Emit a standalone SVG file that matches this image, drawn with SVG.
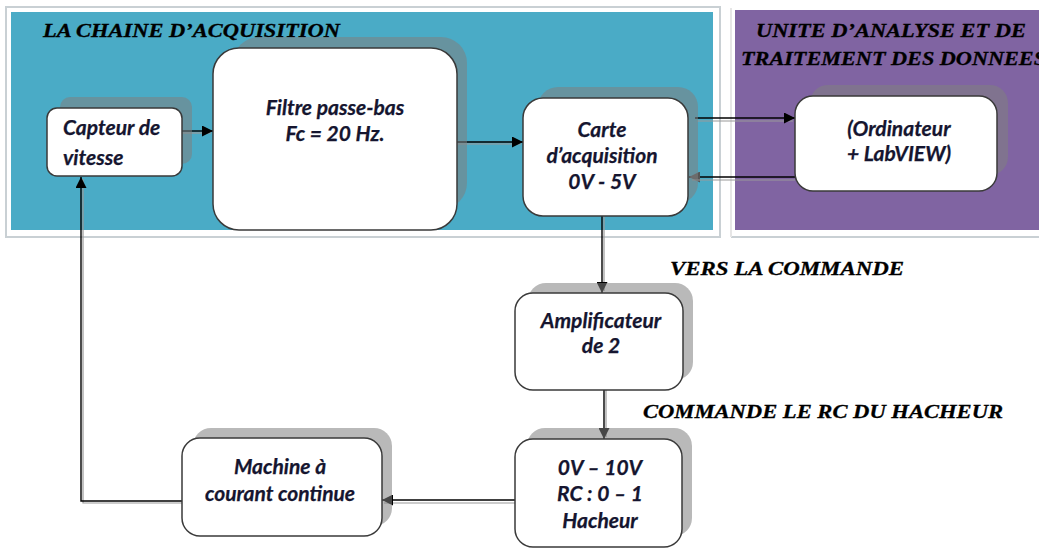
<svg xmlns="http://www.w3.org/2000/svg" width="1039" height="550" viewBox="0 0 1039 550">
<defs>
<style>
.node{fill:#ffffff;stroke:#3a3a3a;stroke-width:1.5}
.shadow{fill:#7f7f7f;opacity:0.55}
.lbl{font-family:Lato,"Liberation Sans",sans-serif;font-weight:bold;font-style:italic;font-size:21px;fill:#15152f;stroke:#15152f;stroke-width:0.25;text-anchor:middle}
.title{font-family:"Liberation Serif",serif;font-weight:bold;font-style:italic;font-size:19px;fill:#000000;stroke:#000;stroke-width:0.3}
.ln{fill:none;stroke:#000;stroke-width:1.4}
.ln2{fill:none;stroke:#9a9a9a;stroke-width:1.2}
</style>
<marker id="ah" viewBox="0 0 10 10" refX="10" refY="5" markerWidth="11" markerHeight="11" markerUnits="userSpaceOnUse" orient="auto">
<path d="M0,0 L10,5 L0,10 z" fill="#000"/>
</marker>
<marker id="ahg" viewBox="0 0 10 10" refX="10" refY="5" markerWidth="11" markerHeight="11" markerUnits="userSpaceOnUse" orient="auto">
<path d="M0,0 L10,5 L0,10 z" fill="#555"/>
</marker>
</defs>
<rect x="0" y="0" width="1039" height="550" fill="#ffffff"/>
<g id="panels">
<rect x="6" y="7" width="714" height="230" fill="none" stroke="#c9d0d4" stroke-width="2"/>
<rect x="11" y="12" width="702" height="218" fill="#4aabc6"/>
<rect x="735" y="10" width="304" height="220" fill="#8064a2"/>
<line x1="731" y1="237" x2="1039" y2="237" stroke="#c9d0d4" stroke-width="2"/>
<line x1="731" y1="8" x2="731" y2="237" stroke="#e6e6e6" stroke-width="2"/>
<text class="title" x="43" y="37" textLength="297" lengthAdjust="spacingAndGlyphs">LA CHAINE D’ACQUISITION</text>
<text class="title" x="756" y="37" textLength="270" lengthAdjust="spacingAndGlyphs">UNITE D’ANALYSE ET DE</text>
<text class="title" x="741" y="65" textLength="305" lengthAdjust="spacingAndGlyphs">TRAITEMENT DES DONNEES</text>
<text class="title" x="670" y="275" textLength="234" lengthAdjust="spacingAndGlyphs">VERS  LA COMMANDE</text>
<text class="title" x="643" y="418" textLength="360" lengthAdjust="spacingAndGlyphs">COMMANDE LE RC DU HACHEUR</text>
</g>
<g id="connectors">
<path class="ln2" d="M182,133 L211,133"/>
<path class="ln" d="M182,131 L213,131" marker-end="url(#ah)"/>
<path class="ln2" d="M457,144 L521,144"/>
<path class="ln" d="M457,142 L523,142" marker-end="url(#ah)"/>
<path class="ln2" d="M697,121 L793,121"/>
<path class="ln" d="M695,118 L795,118" marker-end="url(#ah)"/>
<path class="ln" d="M795,177 L689,177" marker-end="url(#ahg)"/>
<path class="ln2" d="M795,180 L692,180"/>
<path class="ln2" d="M604,194 L604,291"/>
<path class="ln" d="M602,193 L602,293" marker-end="url(#ah)"/>
<path class="ln2" d="M606,390 L606,437"/>
<path class="ln" d="M604,390 L604,439" marker-end="url(#ah)"/>
<path class="ln2" d="M515,503 L384,503"/>
<path class="ln" d="M515,500 L382,500" marker-end="url(#ah)"/>
<path class="ln2" d="M182,503 L83,503 L83,179"/>
<path class="ln" d="M182,501 L81,501 L81,177" marker-end="url(#ah)"/>
</g>
<g id="capteur">
<rect class="shadow" x="60" y="97" width="132" height="67" rx="10"/>
<rect class="node" x="47" y="108" width="135" height="68" rx="10"/>
<text class="lbl" x="63" y="135" style="text-anchor:start">Capteur de</text>
<text class="lbl" x="63" y="165" style="text-anchor:start">vitesse</text>
</g>
<g id="filtre">
<rect class="shadow" x="233" y="37" width="234" height="172" rx="26"/>
<rect class="node" x="213" y="48" width="244" height="182" rx="26"/>
<text class="lbl" x="335" y="115">Filtre passe-bas</text>
<text class="lbl" x="335" y="141">Fc = 20 Hz.</text>
</g>
<g id="carte">
<rect class="shadow" x="538" y="87" width="160" height="116" rx="20"/>
<rect class="node" x="523" y="98" width="165" height="118" rx="20"/>
<text class="lbl" x="602" y="137">Carte</text>
<text class="lbl" x="602" y="163">d’acquisition</text>
<text class="lbl" x="602" y="189">0V - 5V</text>
</g>
<g id="ordinateur">
<rect class="shadow" x="810" y="85" width="198" height="90" rx="18"/>
<rect class="node" x="795" y="96" width="202" height="95" rx="18"/>
<text class="lbl" x="899" y="136">(Ordinateur</text>
<text class="lbl" x="899" y="161">+ LabVIEW)</text>
</g>
<g id="amplificateur">
<rect class="shadow" x="528" y="283" width="165" height="97" rx="18"/>
<rect class="node" x="515" y="293" width="168" height="97" rx="18"/>
<text class="lbl" x="601" y="328">Amplificateur</text>
<text class="lbl" x="601" y="353">de 2</text>
</g>
<g id="hacheur">
<rect class="shadow" x="527" y="428" width="165" height="108" rx="18"/>
<rect class="node" x="515" y="439" width="167" height="108" rx="18"/>
<text class="lbl" x="600" y="475">0V – 10V</text>
<text class="lbl" x="600" y="501">RC : 0 – 1</text>
<text class="lbl" x="600" y="528">Hacheur</text>
</g>
<g id="machine">
<rect class="shadow" x="193" y="428" width="199" height="98" rx="18"/>
<rect class="node" x="182" y="438" width="200" height="98" rx="18"/>
<text class="lbl" x="280" y="474">Machine à</text>
<text class="lbl" x="280" y="501">courant continue</text>
</g>
</svg>
